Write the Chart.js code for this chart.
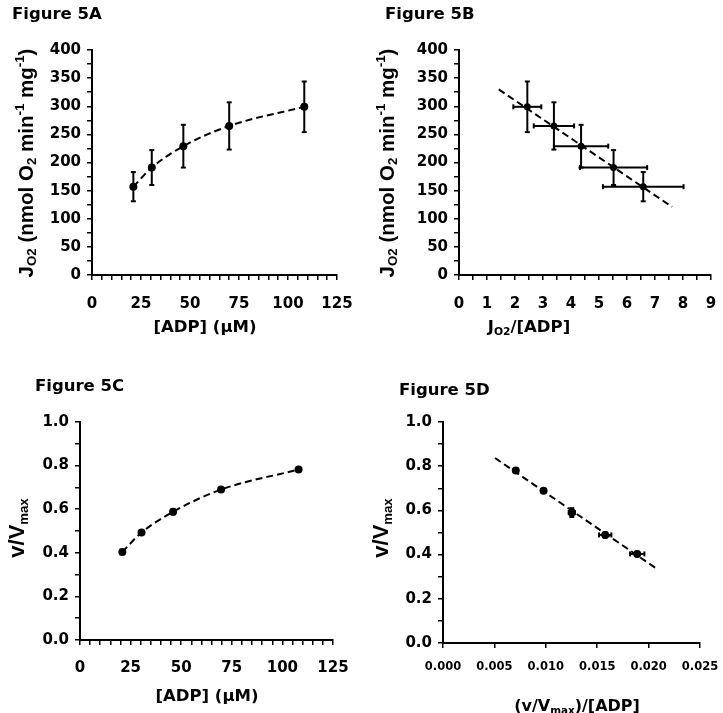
<!DOCTYPE html>
<html>
<head>
<meta charset="utf-8">
<script src="https://cdn.jsdelivr.net/npm/chart.js@4.4.1/dist/chart.umd.min.js"></script>
<style>
  html, body { margin: 0; padding: 0; background: #fff; }
  #wrap { position: relative; width: 723px; height: 713px; overflow: hidden; }
  canvas { position: absolute; }
</style>
</head>
<body>
<div id="wrap">
  <canvas id="chartA" width="361" height="356" style="left:0;top:0"></canvas>
  <canvas id="chartB" width="362" height="356" style="left:361px;top:0"></canvas>
  <canvas id="chartC" width="361" height="357" style="left:0;top:356px"></canvas>
  <canvas id="chartD" width="362" height="357" style="left:361px;top:356px"></canvas>
</div>
<script>
// ======================================================================
// DATA
// ======================================================================
// 5A: JO2 vs [ADP]
const adpA = [21.1, 30.5, 46.6, 70.0, 108.3];
const jo2 = [157, 191, 229, 265, 299];
const jo2Err = [26, 31, 38, 42, 45];

// 5B: JO2 vs JO2/[ADP]
const jo2PerAdp = [6.58, 5.52, 4.36, 3.39, 2.44];
const jo2PerAdpErr = [1.44, 1.20, 0.97, 0.72, 0.50];
const fitBx = [1.42, 7.61];
const fitBy = [330, 121];

// 5C: v/Vmax vs [ADP]
const adpC = [20.9, 30.4, 46.0, 69.7, 108.0];
const vRel = [0.404, 0.493, 0.588, 0.690, 0.782];
const vRelErr = [0.006, 0.010, 0.012, 0.008, 0.005];

// 5D: v/Vmax vs (v/Vmax)/[ADP]
const vRelPerAdp = [0.01889, 0.01578, 0.01253, 0.00978, 0.00708];
const vRelPerAdpErr = [0.0007, 0.0006, 0.0003, 0.0002, 0.0002];
const vRelD = [0.403, 0.489, 0.590, 0.689, 0.781];
const vRelDErr = [0.010, 0.012, 0.020, 0.008, 0.008];
const fitDx = [0.00506, 0.02088];
const fitDy = [0.837, 0.333];

const TICK_FONT = "'DejaVu Sans'";
const TITLE_FONT = "'DejaVu Sans'";
const YTITLE_FONT = "'Liberation Sans'";

function pts(xs, ys) {
  return xs.map((x, i) => ({ x, y: ys[i] }));
}

// ======================================================================
// RICH TEXT (sub / superscripts) + ERROR BARS
// ======================================================================
function drawRich(ctx, it) {
  const { parts, x, y, size, family, rot, align } = it;
  const small = size * (it.subScale || 0.65);
  ctx.save();
  ctx.translate(x, y);
  if (rot) ctx.rotate(rot);
  let total = 0;
  const widths = parts.map(([t, k]) => {
    ctx.font = `bold ${k ? small : size}px ${family}`;
    const w = ctx.measureText(t).width;
    total += w;
    return w;
  });
  let cx = align === "left" ? 0 : -total / 2;
  ctx.textBaseline = "middle";
  ctx.textAlign = "left";
  ctx.fillStyle = "#000";
  parts.forEach(([t, k], i) => {
    ctx.font = `bold ${k ? small : size}px ${family}`;
    const dy = k === "sub" ? size * 0.28 : k === "sup" ? -size * 0.32 : 0;
    ctx.fillText(t, cx, dy);
    cx += widths[i];
  });
  ctx.restore();
}

const panelText = {
  id: "panelText",
  afterDraw(chart, args, opts) {
    (opts.items || []).forEach(it => drawRich(chart.ctx, it));
  }
};

const errorBars = {
  id: "errorBars",
  afterDatasetsDraw(chart) {
    const ctx = chart.ctx;
    const xs = chart.scales.x, ys = chart.scales.y;
    const seg = (a, b, c, d) => { ctx.beginPath(); ctx.moveTo(a, b); ctx.lineTo(c, d); ctx.stroke(); };
    chart.data.datasets.forEach(ds => {
      if (!ds.errY && !ds.errX) return;
      ctx.save();
      ctx.strokeStyle = "#000";
      ctx.lineWidth = 2;
      ds.data.forEach((p, i) => {
        const px = xs.getPixelForValue(p.x), py = ys.getPixelForValue(p.y);
        const cap = 2.5;
        if (ds.errY) {
          const t = ys.getPixelForValue(p.y + ds.errY[i]);
          const b = ys.getPixelForValue(p.y - ds.errY[i]);
          seg(px, t, px, b);
          seg(px - cap, t, px + cap, t);
          seg(px - cap, b, px + cap, b);
        }
        if (ds.errX) {
          const l = xs.getPixelForValue(p.x - ds.errX[i]);
          const r = xs.getPixelForValue(p.x + ds.errX[i]);
          seg(l, py, r, py);
          seg(l, py - cap, l, py + cap);
          seg(r, py - cap, r, py + cap);
        }
      });
      ctx.restore();
    });
  }
};

// ======================================================================
// PANEL BUILDER
// ======================================================================
function axis(min, max, step, label, size, pad, fixW, fixH) {
  return {
    type: "linear",
    min, max,
    afterFit(scale) {
      if (fixW) scale.width = fixW;
      if (fixH) {
        scale.height = fixH;
        // keep the plot area fixed: end labels may hang into the margins
        scale.paddingLeft = 0;
        scale.paddingRight = 0;
      }
    },
    border: { display: true, color: "#000", width: 2 },
    grid: { drawOnChartArea: false, drawTicks: true, tickLength: 5, color: "#000", lineWidth: 1.5 },
    ticks: {
      stepSize: step,
      autoSkip: false,
      maxRotation: 0,
      padding: pad,
      color: "#000",
      font: { family: TICK_FONT, weight: "bold", size },
      callback: label
    }
  };
}

function every(major, digits) {
  return v => {
    const r = v / major;
    return Math.abs(r - Math.round(r)) < 1e-6 ? v.toFixed(digits) : "";
  };
}

function makePanel(id, datasets, xAx, yAx, padding, items) {
  return new Chart(document.getElementById(id), {
    type: "scatter",
    data: { datasets },
    options: {
      responsive: false,
      animation: false,
      devicePixelRatio: 1,
      layout: { padding },
      scales: { x: xAx, y: yAx },
      plugins: {
        legend: { display: false },
        tooltip: { enabled: false },
        panelText: { items }
      }
    },
    plugins: [errorBars, panelText]
  });
}

function dashed(data, smooth) {
  return {
    data,
    showLine: true,
    borderColor: "#000",
    borderWidth: 2,
    borderDash: [7, 4],
    pointRadius: 0,
    tension: smooth ? 0.4 : 0,
    cubicInterpolationMode: smooth ? "monotone" : "default",
    fill: false
  };
}

function dots(data, errY, errX, r) {
  return {
    data,
    showLine: false,
    pointRadius: r,
    pointBackgroundColor: "#000",
    pointBorderColor: "#000",
    pointBorderWidth: 0,
    errY, errX
  };
}

const jLabel = [["J", ""], ["O2", "sub"], [" (nmol O", ""], ["2", "sub"], [" min", ""], ["-1", "sup"], [" mg", ""], ["-1", "sup"], [")", ""]];
const vLabel = [["v/V", ""], ["max", "sub"]];
const adpLabel = [["[ADP] (\u03bcM)", ""]];

// ---------------- 5A ----------------
makePanel("chartA",
  [dashed(pts(adpA, jo2), true), dots(pts(adpA, jo2), jo2Err, null, 4)],
  axis(0, 125, 5, every(25, 0), 15, 15, null, 40),
  axis(0, 400, 25, every(50, 0), 15, 6, 50, null),
  { left: 42, right: 24, top: 50, bottom: 41 },
  [
    { parts: [["Figure 5A", ""]], x: 12, y: 15, size: 16.5, family: TITLE_FONT, align: "left" },
    { parts: jLabel, x: 27, y: 163, size: 20.5, family: YTITLE_FONT, rot: -Math.PI / 2 },
    { parts: adpLabel, x: 205, y: 328, size: 16.5, family: TITLE_FONT }
  ]
);

// ---------------- 5B ----------------
makePanel("chartB",
  [dashed(pts(fitBx, fitBy), false), dots(pts(jo2PerAdp, jo2), jo2Err, jo2PerAdpErr, 3.5)],
  axis(0, 9, 0.5, every(1, 0), 15, 15, null, 40),
  axis(0, 400, 25, every(50, 0), 15, 6, 50, null),
  { left: 48, right: 12, top: 50, bottom: 41 },
  [
    { parts: [["Figure 5B", ""]], x: 24, y: 15, size: 16.5, family: TITLE_FONT, align: "left" },
    { parts: jLabel, x: 27, y: 163, size: 20.5, family: YTITLE_FONT, rot: -Math.PI / 2 },
    { parts: [["J", ""], ["O2", "sub"], ["/[ADP]", ""]], x: 168, y: 328, size: 16.5, family: TITLE_FONT }
  ]
);

// ---------------- 5C ----------------
makePanel("chartC",
  [dashed(pts(adpC, vRel), true), dots(pts(adpC, vRel), vRelErr, null, 4)],
  axis(0, 125, 5, every(25, 0), 15, 14, null, 40),
  axis(0, 1, 0.1, every(0.2, 1), 15, 6, 50, null),
  { left: 30, right: 28, top: 66, bottom: 33 },
  [
    { parts: [["Figure 5C", ""]], x: 35, y: 31, size: 16.5, family: TITLE_FONT, align: "left" },
    { parts: vLabel, x: 18, y: 172, size: 22, subScale: 0.6, family: YTITLE_FONT, rot: -Math.PI / 2 },
    { parts: adpLabel, x: 207, y: 341, size: 16.5, family: TITLE_FONT }
  ]
);

// ---------------- 5D ----------------
makePanel("chartD",
  [dashed(pts(fitDx, fitDy), false), dots(pts(vRelPerAdp, vRelD), vRelDErr, vRelPerAdpErr, 4)],
  axis(0, 0.025, 0.005, every(0.005, 3), 11.5, 12, null, 40),
  axis(0, 1, 0.1, every(0.2, 1), 15, 6, 50, null),
  { left: 32, right: 23, top: 66, bottom: 30 },
  [
    { parts: [["Figure 5D", ""]], x: 38, y: 35, size: 16.5, family: TITLE_FONT, align: "left" },
    { parts: vLabel, x: 21, y: 172, size: 22, subScale: 0.6, family: YTITLE_FONT, rot: -Math.PI / 2 },
    { parts: [["(v/V", ""], ["max", "sub"], [")/[ADP]", ""]], x: 216, y: 351, size: 16, family: TITLE_FONT }
  ]
);
</script>
</body>
</html>
